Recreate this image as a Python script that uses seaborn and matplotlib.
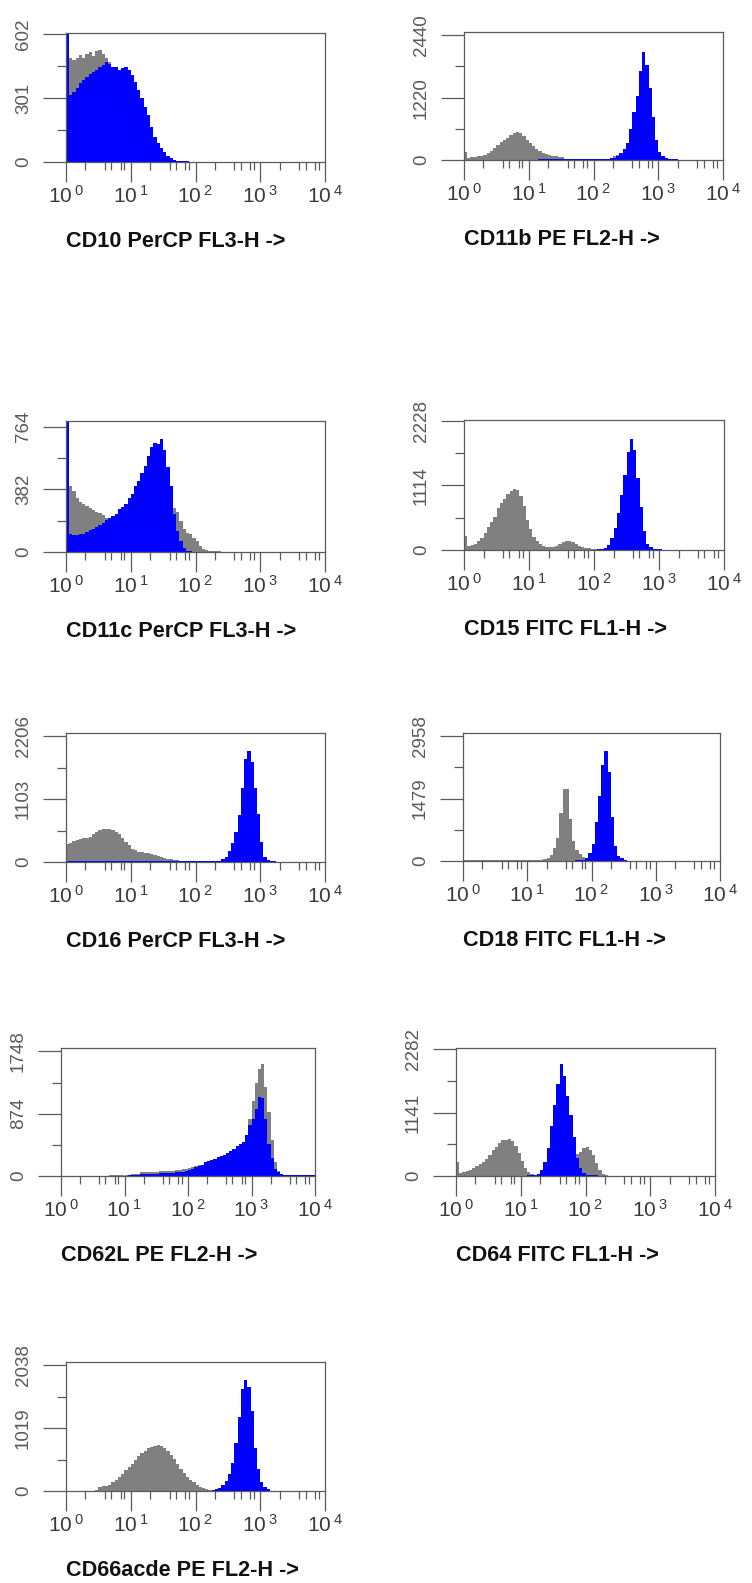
import numpy as np
import pandas as pd
import matplotlib
matplotlib.use("Agg")
import matplotlib.pyplot as plt
from matplotlib.ticker import FixedLocator
import seaborn as sns

# ---------------------------------------------------------------- data
# histogram counts in log-spaced channels (20 channels per decade, 10^0..10^4)
TITLES = ["CD10 PerCP FL3-H ->", "CD11b PE FL2-H ->", "CD11c PerCP FL3-H ->",
          "CD15 FITC FL1-H ->", "CD16 PerCP FL3-H ->", "CD18 FITC FL1-H ->",
          "CD62L PE FL2-H ->", "CD64 FITC FL1-H ->", "CD66acde PE FL2-H ->"]
YTICK_LABELS = [["0", "301", "602"], ["0", "1220", "2440"], ["0", "382", "764"],
                ["0", "1114", "2228"], ["0", "1103", "2206"], ["0", "1479", "2958"],
                ["0", "874", "1748"], ["0", "1141", "2282"], ["0", "1019", "2038"]]
YTICK_MAX = [602, 2440, 764, 2228, 2206, 2958, 1748, 2282, 2038]
YLIM_TOP = [608, 2505, 798, 2245, 2265, 3037, 1795, 2306, 2092]
XTICK_EXP = [0, 1, 2, 3, 4]
XMINOR_MULT = [2, 4, 5, 7, 8]

CD10_GREY_START = 0
CD10_GREY = [608, 488, 480, 492, 503, 488, 511, 519, 499, 524, 530, 511, 488, 472, 440, 440,
             425, 430, 440, 425, 400, 370, 330, 290, 250, 210, 160, 115, 85, 62, 42, 28, 17,
             10, 6, 4, 3, 3, 2, 2, 2, 1, 1, 1, 1, 1, 1, 1, 1, 1, 1]
CD10_BLUE_START = 0
CD10_BLUE = [608, 316, 331, 347, 371, 386, 402, 417, 425, 433, 449, 456, 472, 464, 449, 449,
             433, 441, 449, 433, 410, 378, 339, 300, 261, 222, 167, 120, 89, 66, 45, 30, 19,
             11, 6, 4, 3, 3, 2, 2, 2, 1, 1, 2, 1, 1, 1, 1, 1, 1, 1]

CD11B_GREY_START = 0
CD11B_GREY = [150, 45, 50, 60, 70, 80, 100, 130, 180, 230, 290, 350, 400, 440, 490, 525, 550,
              530, 470, 400, 330, 270, 220, 180, 140, 110, 90, 80, 70, 60, 50,
              20, 8, 8, 8, 8, 8, 8, 8, 8, 8, 8, 8, 10, 20,
              40, 70, 100, 140, 170, 200, 250, 300, 350, 400, 400, 380, 330, 280, 200, 100,
              50, 25, 10]
CD11B_BLUE_START = 23
CD11B_BLUE = [10, 12, 11, 12, 10, 11, 12, 10, 11, 10, 12, 11, 10, 12, 11, 10, 12, 14, 15, 18,
              20, 25, 30, 40, 80, 130, 210, 340, 600, 930, 1250, 1750, 2120, 1850, 1400, 850,
              400, 160, 80, 40, 20, 12, 10, 8, 6]

CD11C_GREY_START = 0
CD11C_GREY = [798, 400, 370, 330, 305, 295, 280, 265, 255, 245, 235, 225, 210, 205, 200, 210,
              220, 240, 260, 290, 320, 360, 400, 440, 480, 520, 560, 600, 600, 600, 560, 450,
              330, 265, 244, 190, 140, 115, 110, 85, 65, 35, 18, 10, 6, 5, 4, 4, 3, 3, 3, 3,
              2, 2, 2, 2, 2, 2, 2, 2, 2, 2, 2, 2, 2, 2, 2, 2, 2, 2, 2, 2, 2, 2, 2, 2, 2, 2, 2, 2]
CD11C_BLUE_START = 0
CD11C_BLUE = [798, 112, 105, 102, 108, 112, 120, 132, 142, 150, 163, 175, 195, 205, 220, 234,
              262, 275, 290, 326, 356, 400, 435, 480, 525, 585, 640, 662, 655, 690, 620, 520,
              400, 230, 130, 70, 25, 8, 4, 3, 3, 3, 3, 2, 2, 3, 2, 2, 3, 2, 2, 2, 3, 2, 2, 3,
              2, 2, 2, 2, 2, 3, 2, 2, 2, 2, 2, 2, 2, 2, 2, 2, 2, 2, 2, 2, 2, 2, 2, 3]

CD15_GREY_START = 0
CD15_GREY = [250, 70, 80, 110, 150, 210, 290, 390, 480, 570, 720, 810, 880, 960, 1020, 1060,
             1030, 940, 760, 520, 360, 230, 150, 100, 70, 55, 45, 45, 70, 100, 130, 150, 150,
             130, 110, 75, 50, 40, 30, 20, 15, 12, 10, 10, 10, 10, 10, 10, 10, 10, 10, 10, 10,
             10, 10, 10, 10, 10, 8, 6, 5, 4, 3, 3, 3, 3, 3, 3]
CD15_BLUE_START = 39
CD15_BLUE = [8, 8, 10, 15, 30, 90, 200, 380, 640, 950, 1300, 1700, 1920, 1720, 1250, 750, 330,
             110, 45, 25, 15, 10, 8, 6, 5, 5, 4, 4, 3]

CD16_GREY_START = 0
CD16_GREY = [324, 330, 370, 385, 400, 415, 430, 445, 490, 530, 555, 575, 585, 580, 560, 535,
             490, 420, 350, 290, 235, 205, 180, 172, 165, 155, 135, 120, 105, 90, 75, 60, 48,
             38, 30, 25, 20, 18, 16, 15, 14, 13, 12, 12, 12, 11, 10, 10]
CD16_BLUE_START = 0
CD16_BLUE = [16, 15, 16, 15, 14, 16, 15, 16, 15, 14, 15, 16, 15, 15, 16, 14, 15, 16, 15, 15,
             16, 14, 15, 16, 15, 15, 14, 16, 15, 15, 16, 14, 15, 15, 16, 15, 14, 15, 16, 15,
             15, 14, 16, 15, 15, 16, 15, 20, 60, 90, 190, 340, 520, 820, 1300, 1800, 1950,
             1750, 1300, 850, 350, 80, 30, 15, 10, 8, 5, 5, 5, 4, 5, 4, 5, 4, 5, 4, 5, 4, 4]

CD18_GREY_START = 0
CD18_GREY = [22, 20, 20, 22, 20, 20, 20, 22, 20, 20, 20, 20, 22, 20, 20, 20, 20, 22, 20, 20,
             22, 20, 22, 25, 28, 40, 70, 150, 300, 550, 1150, 1720, 1700, 1000, 480, 260, 160,
             95, 60, 40, 30, 25, 20, 20, 20, 20, 20, 20, 15, 12, 10, 8, 8, 8, 8, 8, 8, 8, 8, 8,
             8, 8, 8, 8, 8, 8, 8, 8, 8, 8, 8, 8, 8, 8, 8, 8, 8, 8, 8, 8]
CD18_BLUE_START = 29
CD18_BLUE = [10, 10, 10, 10, 10, 10, 12, 15, 30, 70, 180, 400, 930, 1550, 2280, 2600, 2100,
             1050, 350, 120, 60, 35, 10, 10, 10, 10, 10, 10, 10, 10, 10, 10, 10, 10, 10, 10,
             10, 10, 10, 10, 10, 10, 10, 10, 10, 10, 10, 10, 10, 10, 10]

CD62L_GREY_START = 0
CD62L_GREY = [5, 5, 5, 5, 5, 5, 5, 5, 5, 5, 5, 5, 5, 5, 5,
              15, 15, 15, 18, 18, 20, 20, 22, 25, 30,
              50, 55, 55, 60, 60, 62, 65, 65, 65, 70, 75, 80, 90, 100, 105, 110, 120, 135, 150,
              150, 170, 190, 205, 220, 235, 250, 270, 290, 310, 340, 370, 400, 430,
              560, 800, 1050, 1300, 1500, 1570, 1250, 900, 500, 200, 70, 30,
              8, 8, 8, 8, 8, 8, 8, 8, 8, 8]
CD62L_BLUE_START = 15
CD62L_BLUE = [5, 0, 5, 5, 0, 5, 8, 8, 10, 15,
              25, 28, 30, 32, 33, 35, 37, 40, 42, 45, 47, 50, 55,
              60, 70, 85, 100, 120, 140, 160, 190, 215, 230, 245, 260, 275, 300, 325, 350, 385,
              420, 450, 480, 573, 713, 806, 946, 1109, 1100, 800, 450, 250, 100, 50, 25,
              8, 8, 8, 8, 8, 8, 8, 8, 8, 8]

CD64_GREY_START = 0
CD64_GREY = [250, 50, 70, 90, 110, 140, 175, 210, 260, 310, 380, 460, 530, 600, 645, 650, 670,
             630, 540, 420, 270, 150, 70, 30, 20, 15, 12, 10, 10, 10, 10, 10, 10, 10, 10, 150,
             300, 400, 440, 500, 525, 470, 380, 230, 110, 45, 15, 8, 6, 5, 5, 4, 4, 4, 3, 3,
             3, 3, 3, 3, 3, 3, 3, 3, 3, 3, 3, 3, 3]
CD64_BLUE_START = 22
CD64_BLUE = [15, 15, 20, 40, 100, 250, 500, 900, 1280, 1650, 2010, 1800, 1450, 1100, 700, 330,
             150, 50, 15, 15, 15, 15]

CD66_GREY_START = 0
CD66_GREY = [5, 5, 5, 5, 5, 5, 5, 5, 5, 20, 60, 75, 85, 105, 140, 180, 225, 280, 335, 390,
             440, 510, 570, 620, 655, 690, 710, 725, 740, 730, 700, 650, 590, 520, 440, 360,
             290, 220, 180, 140, 100, 70, 50, 30, 10, 10, 10, 10]
CD66_BLUE_START = 26
CD66_BLUE = [3, 0, 3, 0, 3, 3, 0, 3, 3, 3, 3, 5, 5, 5, 5, 5, 5, 5, 8, 15, 25,
             45, 100, 170, 280, 450, 780, 1200, 1650, 1800, 1690, 1300, 700, 350, 140, 60, 25,
             8, 8, 8, 8, 8, 8, 8, 8, 8, 8, 8, 8, 8, 8, 8, 8, 8]

GREY_SERIES = [(CD10_GREY_START, CD10_GREY), (CD11B_GREY_START, CD11B_GREY),
               (CD11C_GREY_START, CD11C_GREY), (CD15_GREY_START, CD15_GREY),
               (CD16_GREY_START, CD16_GREY), (CD18_GREY_START, CD18_GREY),
               (CD62L_GREY_START, CD62L_GREY), (CD64_GREY_START, CD64_GREY),
               (CD66_GREY_START, CD66_GREY)]
BLUE_SERIES = [(CD10_BLUE_START, CD10_BLUE), (CD11B_BLUE_START, CD11B_BLUE),
               (CD11C_BLUE_START, CD11C_BLUE), (CD15_BLUE_START, CD15_BLUE),
               (CD16_BLUE_START, CD16_BLUE), (CD18_BLUE_START, CD18_BLUE),
               (CD62L_BLUE_START, CD62L_BLUE), (CD64_BLUE_START, CD64_BLUE),
               (CD66_BLUE_START, CD66_BLUE)]

# ---------------------------------------------------------------- layout / style
W, H = 752, 1583
# frame boxes in pixels: left, top, right, bottom
BOXES = [(66, 33, 325, 162), (464, 32, 723, 160),
         (66, 421, 325, 552), (464, 420, 724, 550),
         (66, 733, 325, 862), (463, 733, 720, 861),
         (61, 1048, 315, 1176), (456, 1048, 715, 1176),
         (66, 1362, 325, 1491)]
TITLE_GAP = 69
GREY = "#808080"
BLUE = "#0000ff"
FRAME = "#5a5a5a"
XLAB_COLOR = "#3a3a3a"
YLAB_COLOR = "#5a5a5a"

BINS_PER_DECADE = 20
N_BINS = 80

sns.set_theme(style="white")
plt.rcParams["font.family"] = ["Liberation Sans", "DejaVu Sans"]
plt.rcParams["mathtext.fontset"] = "custom"
plt.rcParams["mathtext.rm"] = "Liberation Sans"
plt.rcParams["mathtext.it"] = "Liberation Sans"

edges = np.arange(N_BINS + 1) / BINS_PER_DECADE
centers = (edges[:-1] + edges[1:]) / 2
edge_list = [float(e) for e in edges]


def expand(start, vals):
    full = np.zeros(N_BINS)
    vals = np.asarray(vals, dtype=float)[: N_BINS - start]
    full[start:start + len(vals)] = vals
    return full


fig = plt.figure(figsize=(W / 100, H / 100), dpi=100)
fig.patch.set_facecolor("white")

minor_x = [e + np.log10(m) for e in range(4) for m in XMINOR_MULT]

for i, title in enumerate(TITLES):
    l, t, r, b = BOXES[i]
    ax = fig.add_axes([l / W, 1 - b / H, (r - l) / W, (b - t) / H])
    ax.set_facecolor("white")
    df = pd.DataFrame({
        "log_fl": centers,
        "control": expand(*GREY_SERIES[i]),
        "stained": expand(*BLUE_SERIES[i]),
    })
    for col, colr in (("control", GREY), ("stained", BLUE)):
        sns.histplot(data=df, x="log_fl", weights=col, bins=edge_list, element="bars",
                     fill=True, color=colr, alpha=1, linewidth=0, edgecolor="none",
                     shrink=1, antialiased=False, ax=ax)
    ax.set_xlim(0, 4)
    ax.set_ylim(0, YLIM_TOP[i])
    ax.set_xlabel("")
    ax.set_ylabel("")
    for s in ax.spines.values():
        s.set_visible(True)
        s.set_color(FRAME)
        s.set_linewidth(0.9)
        s.set_zorder(5)

    ax.set_xticks(XTICK_EXP)
    ax.set_xticklabels([r"$\mathdefault{10^{\;%d}}$" % e for e in XTICK_EXP])
    ax.xaxis.set_minor_locator(FixedLocator(minor_x))
    top = YTICK_MAX[i]
    ax.set_yticks([0, top / 2, top])
    ax.set_yticklabels(YTICK_LABELS[i])
    ax.yaxis.set_minor_locator(FixedLocator([top / 4, 3 * top / 4]))

    ax.tick_params(axis="x", which="major", bottom=True, direction="out", length=14.5,
                   width=0.9, color=FRAME, pad=2, labelsize=15, labelcolor=XLAB_COLOR)
    ax.tick_params(axis="x", which="minor", bottom=True, direction="out", length=5.8,
                   width=0.9, color=FRAME)
    ax.tick_params(axis="y", which="major", left=True, direction="out", length=16.5,
                   width=0.9, color=FRAME, pad=8, labelsize=13.5, labelcolor=YLAB_COLOR,
                   labelrotation=90)
    ax.tick_params(axis="y", which="minor", left=True, direction="out", length=6.5,
                   width=0.9, color=FRAME)
    for lab in ax.get_yticklabels():
        lab.set_va("center")
    ax.grid(False)

    fig.text(l / W, 1 - (b + TITLE_GAP) / H, title, ha="left", va="top",
             fontsize=15.6, fontweight="bold", color="#111111")

fig.savefig("out.png", dpi=100, facecolor="white")
